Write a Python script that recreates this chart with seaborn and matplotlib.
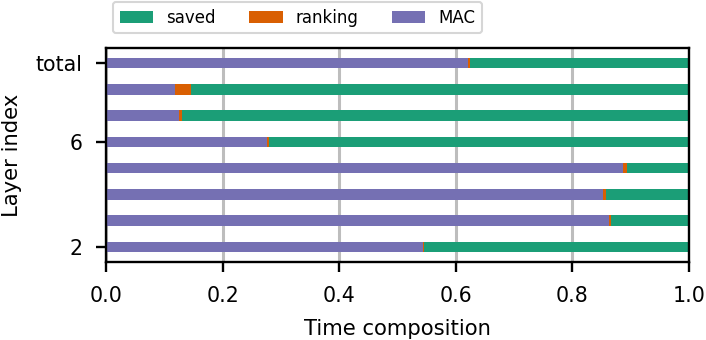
import matplotlib
matplotlib.use("Agg")
import matplotlib.pyplot as plt
import seaborn as sns
import pandas as pd
import numpy as np

# data (bottom to top)
layers = ["2", "3", "4", "5", "6", "7", "8", "total"]
mac = [0.544, 0.862, 0.853, 0.886, 0.276, 0.1245, 0.1176, 0.621]
ranking = [0.002, 0.004, 0.005, 0.007, 0.004, 0.0065, 0.028, 0.004]
shown_ticks = ["2", "6", "total"]

colors = {"saved": "#1b9e77", "ranking": "#d95f02", "MAC": "#7570b3"}

df = pd.DataFrame({"layer": layers, "MAC": mac, "ranking": ranking})
df["saved"] = 1 - df["MAC"] - df["ranking"]
df["cum_rank"] = df["MAC"] + df["ranking"]
df["cum_saved"] = df["cum_rank"] + df["saved"]

plt.rcParams["font.family"] = ["DejaVu Sans"]
fig = plt.figure(figsize=(7.06, 3.4), dpi=100)
ax = fig.add_axes([106 / 706, 1 - 262 / 340, (689 - 106) / 706, (262 - 48) / 340])

order = layers[::-1]
common = dict(y="layer", order=order, orient="h", width=0.4, saturation=1, ax=ax, linewidth=0)
sns.barplot(data=df, x="cum_saved", color=colors["saved"], label="saved", **common)
sns.barplot(data=df, x="cum_rank", color=colors["ranking"], label="ranking", **common)
sns.barplot(data=df, x="MAC", color=colors["MAC"], label="MAC", **common)

ax.set_xlim(0, 1)
ax.set_ylim(len(layers) - 1 + 0.57, -0.57)
ax.set_xticks([0, 0.2, 0.4, 0.6, 0.8, 1.0])
ax.set_xticklabels(["0.0", "0.2", "0.4", "0.6", "0.8", "1.0"])
ax.set_yticks([order.index(t) for t in shown_ticks])
ax.set_yticklabels(shown_ticks)

ax.grid(axis="x", color="#bdbdbd", linewidth=2.2)
ax.grid(axis="y", visible=False)
ax.set_axisbelow(True)

for s in ax.spines.values():
    s.set_visible(True)
    s.set_linewidth(1.7)
    s.set_color("black")
ax.tick_params(axis="both", labelsize=14.8, length=7.5, width=1.7, pad=9.5)
ax.set_xlabel("Time composition", fontsize=15.2, labelpad=9.5)
ax.set_ylabel("Layer index", fontsize=15.2, labelpad=10)

if ax.get_legend() is not None:
    ax.get_legend().remove()
handles, labels = ax.get_legend_handles_labels()
leg = fig.legend(handles, labels, loc="upper left", bbox_to_anchor=(113 / 706, 1 - 2 / 340),
                 ncol=3, fontsize=12, frameon=True, borderaxespad=0)
leg.get_frame().set_linewidth(1.5)
leg.get_frame().set_edgecolor("#cccccc")

fig.savefig("out.png", dpi=100)
